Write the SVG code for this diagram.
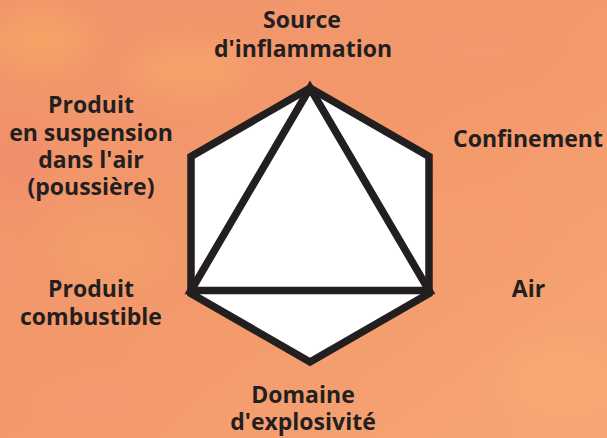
<svg xmlns="http://www.w3.org/2000/svg" width="607" height="438" viewBox="0 0 607 438">
<style>
.lbl{font-family:"Open Sans","Noto Sans","Liberation Sans",sans-serif;font-weight:700;font-size:23px;fill:#231f20;text-anchor:middle}
.shape{fill:#ffffff;stroke:#231f20;stroke-width:7.5;stroke-linejoin:miter}
</style>
<defs>
<linearGradient id="bg" x1="0" y1="0" x2="1" y2="1">
<stop offset="0" stop-color="#f1946b"/>
<stop offset="0.5" stop-color="#f3996b"/>
<stop offset="1" stop-color="#f7a676"/>
</linearGradient>
<filter id="blur" x="-50%" y="-50%" width="200%" height="200%"><feGaussianBlur stdDeviation="14"/></filter>
</defs>
<rect width="607" height="438" fill="url(#bg)"/>
<g filter="url(#blur)" opacity="0.7">
<ellipse cx="40" cy="40" rx="50" ry="30" fill="#f5a865"/>
<ellipse cx="190" cy="70" rx="60" ry="25" fill="#f6a86a"/>
<ellipse cx="110" cy="250" rx="60" ry="40" fill="#f3a06a"/>
<ellipse cx="20" cy="160" rx="30" ry="40" fill="#ef8c6c"/>
<ellipse cx="480" cy="50" rx="70" ry="35" fill="#f29a6e"/>
<ellipse cx="560" cy="380" rx="60" ry="40" fill="#f8ab72"/>
<ellipse cx="480" cy="230" rx="70" ry="50" fill="#f59d6f"/>
<ellipse cx="90" cy="400" rx="70" ry="30" fill="#f39b70"/>
</g>
<g id="diagram">
<polygon id="hexagon" class="shape" points="310,88 429,156.5 429,293.5 310,362 191,293.5 191,156.5"/>
<polygon id="triangle" class="shape" points="310,88 429,290.5 191,290.5"/>
</g>
<g id="source"><text class="lbl" x="302" y="28">Source</text><text class="lbl" x="303" y="57">d'inflammation</text></g>
<g id="suspension"><text class="lbl" x="91" y="113">Produit</text><text class="lbl" x="91" y="141">en suspension</text><text class="lbl" x="91" y="168">dans l'air</text><text class="lbl" x="91" y="195">(poussière)</text></g>
<g id="confinement"><text class="lbl" x="528" y="147">Confinement</text></g>
<g id="combustible"><text class="lbl" x="91" y="297">Produit</text><text class="lbl" x="91" y="325">combustible</text></g>
<g id="air"><text class="lbl" x="528.5" y="297">Air</text></g>
<g id="explosivite"><text class="lbl" x="303" y="403">Domaine</text><text class="lbl" x="303" y="430">d'explosivité</text></g>
</svg>
